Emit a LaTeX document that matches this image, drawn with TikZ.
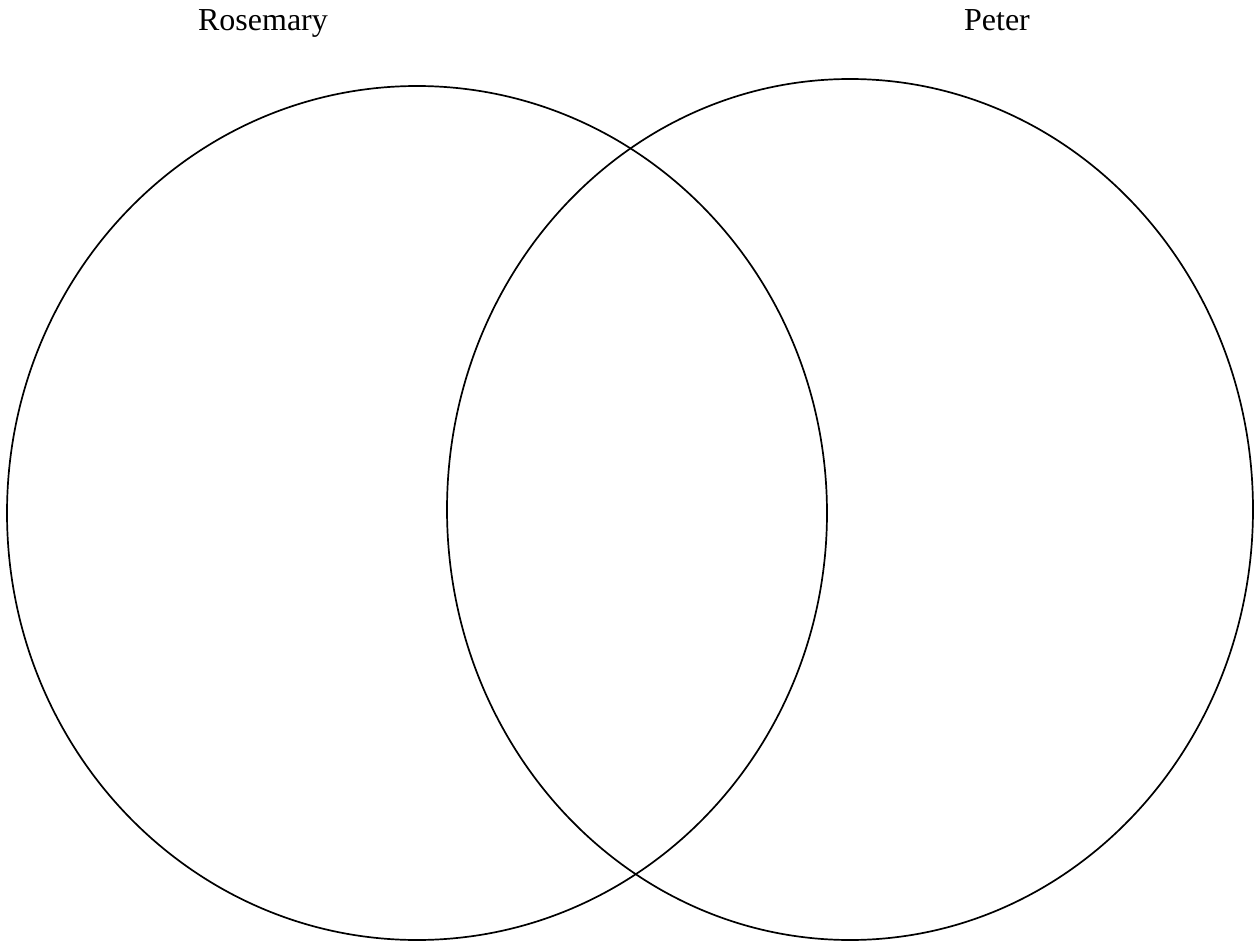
\documentclass[tikz,border=0pt]{standalone}
\usepackage{fontspec}
\setmainfont{Liberation Serif}
\begin{document}
\begin{tikzpicture}[x=0.5pt,y=-0.5pt,line width=0.85pt,
  setname/.style={font=\fontsize{16}{19}\selectfont,anchor=base,inner sep=0pt}]
\useasboundingbox (0,0) rectangle (1255,942);
\coordinate (rosemary) at (417,513);
\coordinate (peter) at (850,509.5);
\draw (rosemary) ellipse [x radius=410,y radius=427];
\draw (peter) ellipse [x radius=403,y radius=430.5];
\node[setname] (rosemarylabel) at (263,31) {Rosemary};
\node[setname] (peterlabel) at (997,31) {Peter};
\end{tikzpicture}
\end{document}
